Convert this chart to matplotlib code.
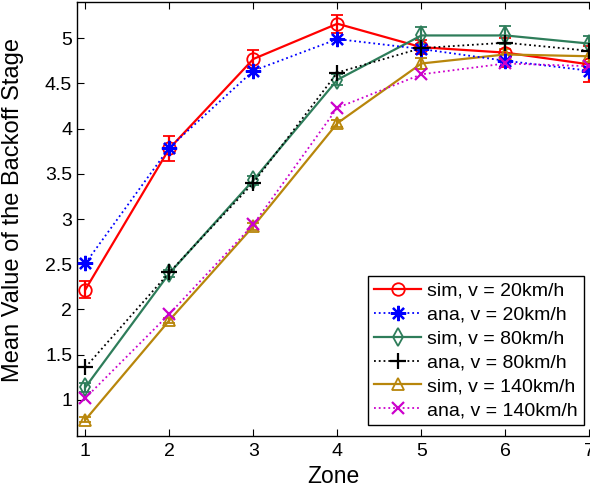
import matplotlib
matplotlib.use("Agg")
import matplotlib.pyplot as plt
import numpy as np

plt.rcParams['font.family'] = ['Liberation Sans', 'DejaVu Sans']

zones = [1, 2, 3, 4, 5, 6, 7]

sim_20 = [2.22, 3.78, 4.77, 5.16, 4.90, 4.84, 4.71]
sim_20_err = [0.09, 0.14, 0.10, 0.10, 0.08, 0.16, 0.20]
ana_20 = [2.51, 3.79, 4.64, 4.99, 4.88, 4.75, 4.64]

sim_80 = [1.14, 2.40, 3.43, 4.54, 5.03, 5.03, 4.94]
sim_80_err = [0.05, 0.04, 0.05, 0.06, 0.09, 0.10, 0.08]
ana_80 = [1.36, 2.41, 3.40, 4.62, 4.89, 4.95, 4.86]

sim_140 = [0.78, 1.88, 2.92, 4.06, 4.72, 4.82, 4.80]
sim_140_err = [0.03, 0.03, 0.04, 0.04, 0.06, 0.06, 0.06]
ana_140 = [1.02, 1.95, 2.94, 4.23, 4.60, 4.72, 4.69]

labels = ['sim, v = 20km/h', 'ana, v = 20km/h',
          'sim, v = 80km/h', 'ana, v = 80km/h',
          'sim, v = 140km/h', 'ana, v = 140km/h']

green = '#2e7d5a'
gold = '#b8860b'
asterisk = (8, 2, 0)

fig = plt.figure(figsize=(5.9, 4.9), dpi=100)
ax = fig.add_axes([77 / 590, 1 - 436 / 490, 520.8 / 590, 434 / 490])

handles = []
eb = ax.errorbar(zones, sim_20, yerr=sim_20_err, color='red', lw=1.6,
                 marker='o', ms=9, mfc='none', mew=1.3, capsize=4.5,
                 elinewidth=1.6, capthick=1.6, zorder=3)
handles.append(eb.lines[0])
l, = ax.plot(zones, ana_20, color='blue', ls=':', lw=1.3, marker=asterisk,
             ms=11, mew=1.6, zorder=4)
handles.append(l)
eb = ax.errorbar(zones, sim_80, yerr=sim_80_err, color=green, lw=1.6,
                 marker='d', ms=9, mfc='none', mew=1.3, capsize=4.5,
                 elinewidth=1.6, capthick=1.6, zorder=3)
handles.append(eb.lines[0])
l, = ax.plot(zones, ana_80, color='black', ls=':', lw=1.3, marker='+',
             ms=11, mew=1.6, zorder=4)
handles.append(l)
eb = ax.errorbar(zones, sim_140, yerr=sim_140_err, color=gold, lw=1.6,
                 marker='^', ms=9, mfc='none', mew=1.3, capsize=4.5,
                 elinewidth=1.6, capthick=1.6, zorder=3)
handles.append(eb.lines[0])
l, = ax.plot(zones, ana_140, color='#cc00cc', ls=':', lw=1.3, marker='x',
             ms=9, mew=1.6, zorder=4)
handles.append(l)

ax.set_xlim(0.9, 7.1)
ax.set_ylim(0.6, 5.4)
ax.set_xticks(zones)
ax.set_yticks(np.arange(1, 5.01, 0.5))
ax.set_yticklabels(['1', '1.5', '2', '2.5', '3', '3.5', '4', '4.5', '5'])
ax.tick_params(direction='in', top=True, right=True, labelsize=14,
               length=5, width=0.8)
ax.tick_params(axis='x', pad=5)
for s in ax.spines.values():
    s.set_linewidth(1.0)

ax.set_xlabel('Zone', fontsize=16.5)
ax.xaxis.set_label_coords((333 - 77) / 520.8, -(465 - 436) / 434)
ax.set_ylabel('Mean Value of the Backoff Stage', fontsize=17)
ax.yaxis.set_label_coords(-(77 - 24) / 520.8, (436 - 210) / 434)

leg = ax.legend(handles, labels, loc='upper left',
                bbox_to_anchor=(368 / 590, 1 - 276 / 490),
                bbox_transform=fig.transFigure, fontsize=14,
                frameon=True, fancybox=False, edgecolor='black',
                framealpha=1, borderpad=0.32, labelspacing=0.32,
                handlelength=2.4, handletextpad=0.3, borderaxespad=0)
leg.get_frame().set_linewidth(1.0)

fig.savefig('out.png', dpi=100)
